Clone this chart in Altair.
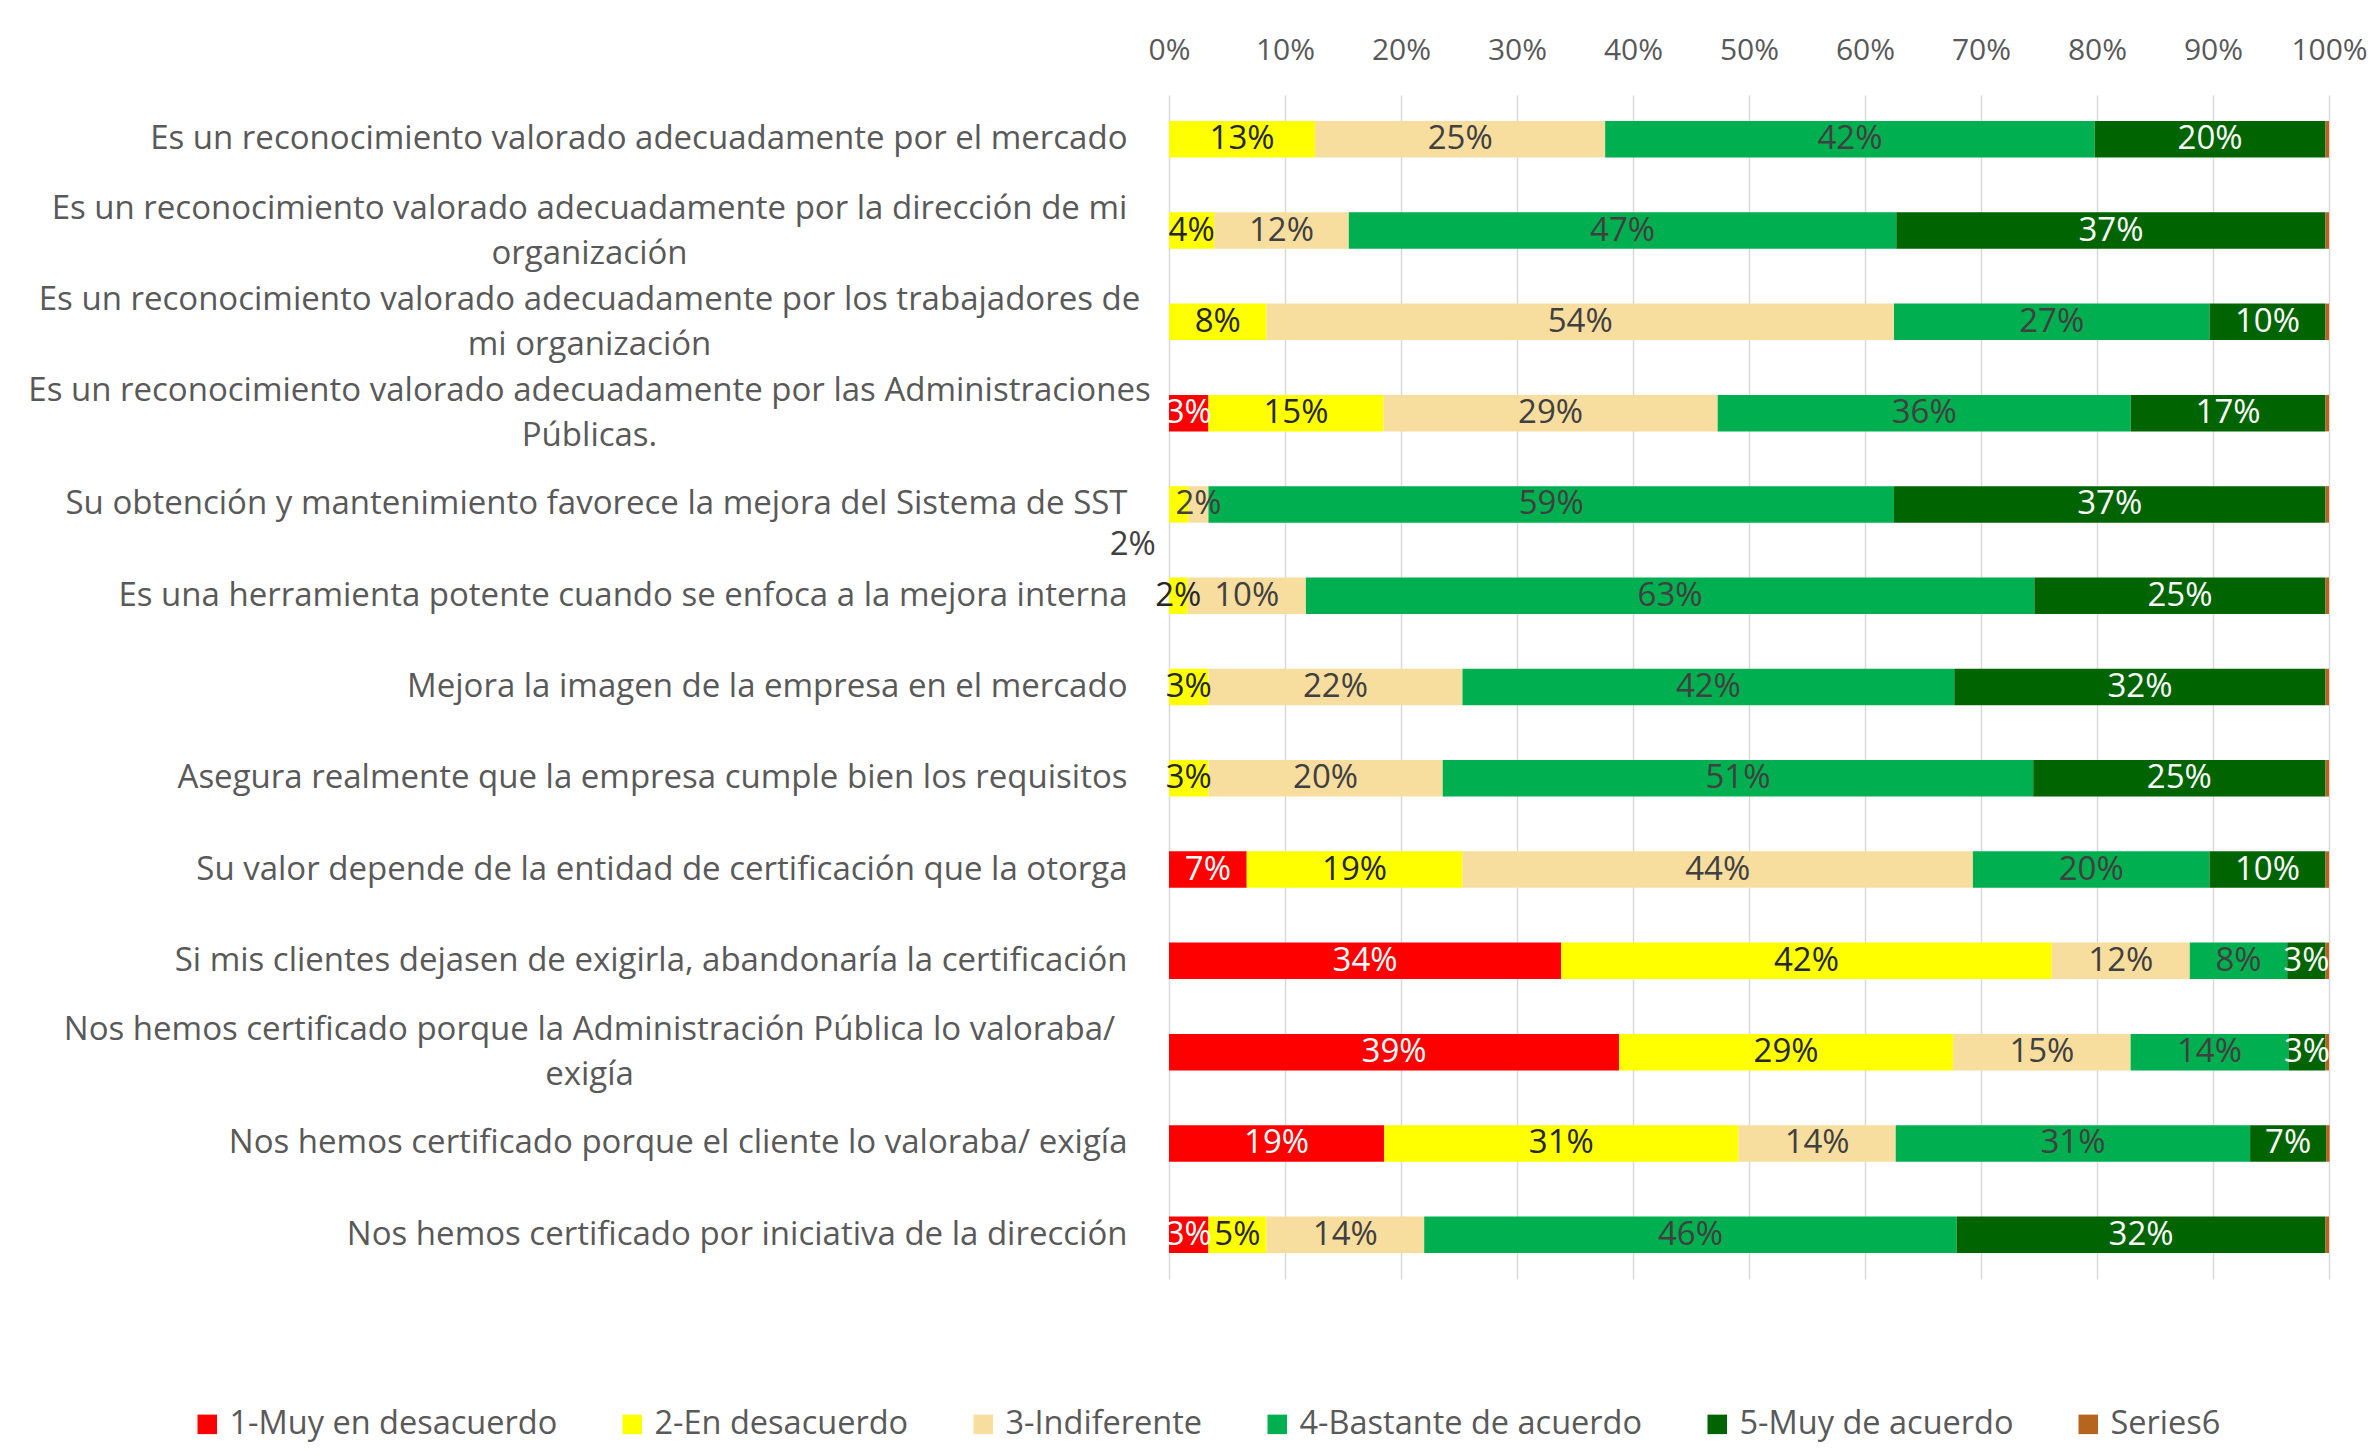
import json
import altair as alt
import pandas as pd

# ---------------- data ----------------
categories = [
    "Es un reconocimiento valorado adecuadamente por el mercado",
    "Es un reconocimiento valorado adecuadamente por la dirección de mi organización",
    "Es un reconocimiento valorado adecuadamente por los trabajadores de mi organización",
    "Es un reconocimiento valorado adecuadamente por las Administraciones Públicas.",
    "Su obtención y mantenimiento favorece la mejora del Sistema de SST",
    "Es una herramienta potente cuando se enfoca a la mejora interna",
    "Mejora la imagen de la empresa en el mercado",
    "Asegura realmente que la empresa cumple bien los requisitos",
    "Su valor depende de la entidad de certificación que la otorga",
    "Si mis clientes dejasen de exigirla, abandonaría la certificación",
    "Nos hemos certificado porque la Administración Pública lo valoraba/ exigía",
    "Nos hemos certificado porque el cliente lo valoraba/ exigía",
    "Nos hemos certificado por iniciativa de la dirección",
]

# wrapped (two-line) category labels as shown in the chart
wrapped = {
    categories[1]: ["Es un reconocimiento valorado adecuadamente por la dirección de mi", "organización"],
    categories[2]: ["Es un reconocimiento valorado adecuadamente por los trabajadores de", "mi organización"],
    categories[3]: ["Es un reconocimiento valorado adecuadamente por las Administraciones", "Públicas."],
    categories[10]: ["Nos hemos certificado porque la Administración Pública lo valoraba/", "exigía"],
}

series_names = ["1-Muy en desacuerdo", "2-En desacuerdo", "3-Indiferente",
                "4-Bastante de acuerdo", "5-Muy de acuerdo", "Series6"]

# percentages per category (same order as categories)
muy_desacuerdo = [0, 0, 0, 3.4, 0, 0, 0, 0, 6.7, 33.8, 38.8, 18.55, 3.4]
en_desacuerdo = [12.6, 3.9, 8.4, 15.1, 1.7, 1.6, 3.4, 3.4, 18.6, 42.3, 28.8, 30.55, 5.0]
indiferente = [25.0, 11.6, 54.1, 28.8, 1.7, 10.2, 21.9, 20.2, 44.0, 11.9, 15.3, 13.55, 13.6]
bastante_acuerdo = [42.2, 47.2, 27.2, 35.6, 59.1, 62.8, 42.4, 50.9, 20.4, 8.4, 13.6, 30.55, 45.9]
muy_acuerdo = [19.9, 37.0, 10.0, 16.8, 37.2, 25.1, 32.0, 25.2, 10.0, 3.3, 3.2, 6.55, 31.8]
series6 = [0.3, 0.3, 0.3, 0.3, 0.3, 0.3, 0.3, 0.3, 0.3, 0.3, 0.3, 0.3, 0.3]

bar_colors = ["#FF0000", "#FFFF00", "#F8DE9E", "#00B050", "#006400", "#B5651D"]
label_colors = ["#FFFFFF", "#262626", "#404040", "#404040", "#FFFFFF", "#404040"]

# ---------------- table ----------------
all_series = [muy_desacuerdo, en_desacuerdo, indiferente, bastante_acuerdo, muy_acuerdo, series6]
rows = []
for ci, cat in enumerate(categories):
    for si, vals in enumerate(all_series):
        v = vals[ci]
        if v <= 0:
            continue
        rows.append({
            "cat": cat,
            "series": series_names[si],
            "order": si,
            "pct": v / 100.0,
            "lc": label_colors[si],
            "showlabel": si < 5,
            "special": (ci == 4 and si == 1),
        })
df = pd.DataFrame(rows)

FONT = "Open Sans"
TXT = "#595959"

multi_list = json.dumps(list(wrapped.keys()), ensure_ascii=False)
main_expr = f"indexof({multi_list}, datum.label) >= 0 ? '' : datum.label"
multi_expr = "''"
for k, lines in reversed(list(wrapped.items())):
    multi_expr = f"datum.label == {json.dumps(k, ensure_ascii=False)} ? {json.dumps(lines, ensure_ascii=False)} : ({multi_expr})"

yscale = alt.Scale(paddingInner=0.6, paddingOuter=0.285)
xscale = alt.Scale(domain=[0, 1], nice=False)
xaxis = alt.Axis(orient="top", values=[i / 10 for i in range(11)], format=".0%",
                 grid=True, gridColor="#D9D9D9", gridWidth=1.5,
                 domain=False, ticks=False, labelPadding=30,
                 labelFont=FONT, labelFontSize=30, labelColor=TXT,
                 labelFlush=False, title=None)

base = alt.Chart(df).transform_stack(
    stack="pct", groupby=["cat"], as_=["x0", "x1"],
    sort=[alt.SortField("order", order="ascending")],
).transform_calculate(xm="(datum.x0 + datum.x1) / 2")

bars = base.mark_bar().encode(
    x=alt.X("x0:Q", scale=xscale, axis=xaxis),
    x2="x1:Q",
    y=alt.Y("cat:N", sort=categories, scale=yscale,
            axis=alt.Axis(orient="left", labelExpr=main_expr, labelAlign="right",
                          labelPadding=42, labelFont=FONT, labelFontSize=33,
                          labelColor=TXT, labelLimit=1500, domain=False, ticks=False,
                          grid=False, title=None)),
    color=alt.Color("series:N", scale=alt.Scale(domain=series_names, range=bar_colors),
                    legend=alt.Legend(orient="none", legendX=-978, legendY=1313,
                                      direction="horizontal", title=None,
                                      symbolType="square", symbolSize=380,
                                      symbolStrokeWidth=0,
                                      labelFont=FONT, labelFontSize=32.5, labelColor=TXT,
                                      columnPadding=58, labelOffset=6, labelLimit=1000)),
)

labels = base.transform_filter("datum.showlabel && !datum.special").mark_text(
    font=FONT, fontSize=33, align="center", baseline="middle"
).encode(
    x=alt.X("xm:Q", scale=xscale, axis=xaxis),
    y=alt.Y("cat:N", sort=categories, scale=yscale,
            axis=alt.Axis(orient="left", labelExpr=multi_expr, labelAlign="center",
                          labelPadding=580, labelLineHeight=45, labelBaseline="middle",
                          labelOffset=-22,
                          labelFont=FONT, labelFontSize=33, labelColor=TXT,
                          labelLimit=1500, domain=False, ticks=False, grid=False,
                          title=None)),
    text=alt.Text("pct:Q", format=".0%"),
    color=alt.Color("lc:N", scale=None),
)

special = base.transform_filter("datum.special").mark_text(
    font=FONT, fontSize=33, align="right", baseline="middle", dx=-23, dy=41
).encode(
    x=alt.X("xm:Q", scale=xscale, axis=xaxis),
    y=alt.Y("cat:N", sort=categories, scale=yscale, axis=None),
    text=alt.Text("pct:Q", format=".0%"),
    color=alt.value("#404040"),
)

chart = alt.layer(bars, labels, special).resolve_axis(y="independent").properties(
    width=1160, height=1184,
    autosize=alt.AutoSizeParams(type="none"),
    padding={"left": 1161, "top": 87, "right": 38, "bottom": 170},
).configure(font=FONT).configure_view(stroke=None)

chart.save("out.html", embed_options={"renderer": "svg", "actions": False})
